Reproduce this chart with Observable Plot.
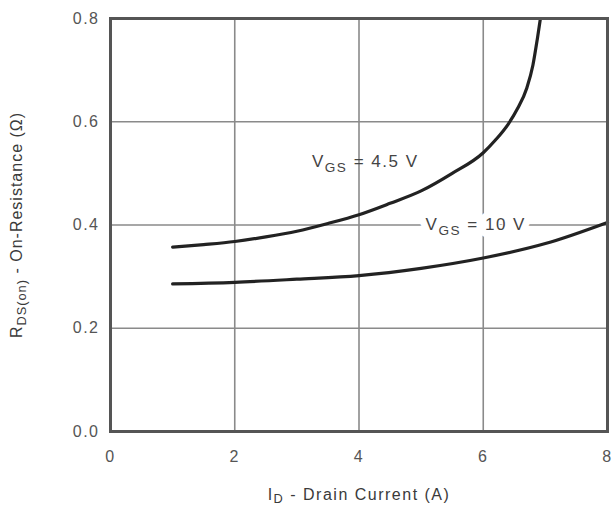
<!DOCTYPE html>
<html>
<head>
<meta charset="utf-8">
<script src="https://cdn.jsdelivr.net/npm/d3@7"></script>
<script src="https://cdn.jsdelivr.net/npm/@observablehq/plot@0.6"></script>
<style>
  html, body { margin: 0; padding: 0; background: #fff; }
  svg { display: block; }
</style>
</head>
<body>
<div id="chart"></div>
<script>
// ---- data ----
const xTicks = [0, 2, 4, 6, 8];
const yTicks = [0.0, 0.2, 0.4, 0.6, 0.8];

const id45 = [1, 1.5, 2, 2.5, 3, 3.5, 4, 4.5, 5, 5.5, 6, 6.2, 6.4, 6.55, 6.7, 6.8, 6.87, 6.92];
const r45  = [0.357, 0.362, 0.368, 0.377, 0.388, 0.403, 0.42, 0.442, 0.466, 0.5, 0.54, 0.565, 0.595, 0.625, 0.665, 0.71, 0.76, 0.8];

const id10 = [1, 2, 3, 4, 5, 6, 7, 8];
const r10  = [0.286, 0.289, 0.295, 0.302, 0.316, 0.336, 0.364, 0.405];

const seriesLabels = ["VGS = 4.5 V", "VGS = 10 V"];
const labelX = [4.1, 5.88];
const labelY = [0.522, 0.4];

const xLabel = "ID - Drain Current (A)";
const yLabel = "RDS(on) - On-Resistance (Ω)";

// ---- build ----
const line45 = id45.map((x, i) => ({x, y: r45[i]}));
const line10 = id10.map((x, i) => ({x, y: r10[i]}));
const labels = seriesLabels.map((t, i) => ({x: labelX[i], y: labelY[i], t}));

const font = "Liberation Sans, Arial, Helvetica, sans-serif";

const chart = Plot.plot({
  width: 613,
  height: 508,
  marginLeft: 110,
  marginRight: 6,
  marginTop: 18,
  marginBottom: 77,
  style: {fontFamily: font, fontSize: "16px", color: "#555", background: "#fff", letterSpacing: "1.5px"},
  x: {domain: [0, 8]},
  y: {domain: [0, 0.8]},
  marks: [
    Plot.gridX(xTicks, {stroke: "#8a8a8a", strokeOpacity: 1, strokeWidth: 1.6}),
    Plot.gridY(yTicks, {stroke: "#8a8a8a", strokeOpacity: 1, strokeWidth: 1.6}),
    Plot.text(labels.slice(1), {x: "x", y: "y", text: "t", fill: "white", stroke: "white", strokeWidth: 14, fontSize: 17, textAnchor: "middle"}),
    Plot.line(line45, {x: "x", y: "y", stroke: "#222", strokeWidth: 3.2, curve: "monotone-x"}),
    Plot.line(line10, {x: "x", y: "y", stroke: "#222", strokeWidth: 3.2, curve: "monotone-x"}),
    Plot.text(labels, {x: "x", y: "y", text: "t", fill: "#444", fontSize: 17, textAnchor: "middle"}),
    Plot.frame({stroke: "#555", strokeWidth: 3}),
    Plot.axisX(xTicks, {tickSize: 0, tickPadding: 19, tickFormat: d => d3.format("d")(d), label: xLabel, labelAnchor: "center", labelOffset: 68, fill: "#555"}),
    Plot.axisY(yTicks, {tickSize: 0, tickPadding: 11, tickFormat: d => d3.format(".1f")(d), label: yLabel, labelAnchor: "center", labelOffset: 100, fill: "#555"})
  ]
});

document.getElementById("chart").appendChild(chart);

// subscripts
function subscript(el, main, sub, rest) {
  const ns = "http://www.w3.org/2000/svg";
  const holder = el.querySelector("tspan") || el;
  holder.textContent = "";
  const a = document.createElementNS(ns, "tspan"); a.textContent = main;
  const b = document.createElementNS(ns, "tspan"); b.textContent = sub;
  b.setAttribute("dy", "0.3em"); b.setAttribute("font-size", "0.8em");
  const c = document.createElementNS(ns, "tspan"); c.textContent = rest;
  c.setAttribute("dy", "-0.24em");
  holder.appendChild(a); holder.appendChild(b); holder.appendChild(c);
}
const subs = {
  "VGS = 4.5 V": ["V", "GS", " = 4.5 V"],
  "VGS = 10 V": ["V", "GS", " = 10 V"],
  [xLabel]: ["I", "D", " - Drain Current (A)"],
  [yLabel]: ["R", "DS(on)", " - On-Resistance (Ω)"]
};
chart.querySelectorAll("text").forEach(el => {
  const s = el.textContent.replace(/[\u2190-\u2193]/g, "").trim();
  if (subs[s]) {
    subscript(el, ...subs[s]);
    if (s === xLabel || s === yLabel) el.setAttribute("fill", "#3a3a3a");
    if (s === yLabel) el.setAttribute("letter-spacing", "1px");
  }
});
</script>
</body>
</html>
